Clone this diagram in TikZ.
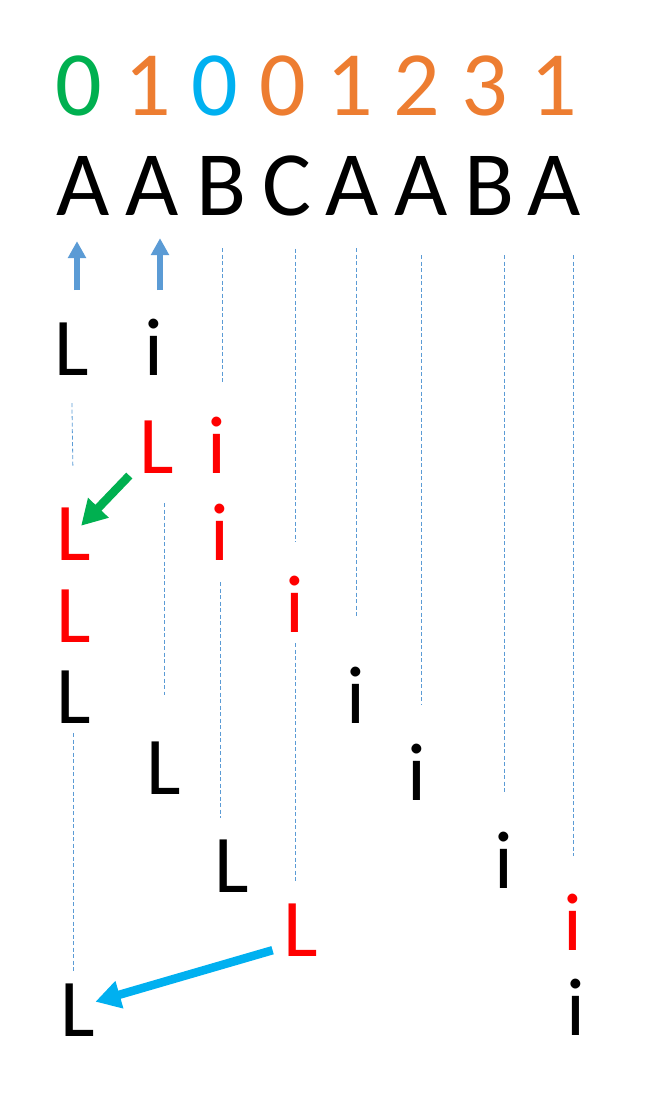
\documentclass[tikz,border=0pt]{standalone}
\usepackage{fontspec}
\setmainfont{Carlito}
\usepackage{xcolor}
\usepackage{tikz}
\usetikzlibrary{arrows.meta}
\definecolor{dgreen}{HTML}{00B050}
\definecolor{orng}{HTML}{ED7D31}
\definecolor{sky}{HTML}{00B0F0}
\definecolor{pred}{HTML}{FF0000}
\definecolor{steel}{HTML}{5B9BD5}
\tikzset{
    glyph/.style = {inner sep=0pt, anchor=base},
    top_char/.style = {glyph, font=\fontsize{92}{100}\selectfont},
    black_char/.style = {glyph, text=black, font=\fontsize{82}{90}\selectfont},
    red_char/.style = {glyph, text=pred, font=\fontsize{82}{90}\selectfont},
    guide/.style = {draw=steel, line width=0.8pt, dash pattern=on 4pt off 2.5pt},
    up_arrow/.style = {color=steel, line width=6pt, -{Triangle[width=17.5pt, length=17pt]}},
    back_arrow/.style = {line width=8.5pt, -{Triangle[width=27pt, length=25pt]}}
}
\begin{document}
\begin{tikzpicture}[x=1pt, y=-1pt]
    \useasboundingbox (0,0) rectangle (650,1109);

    \node [top_char, text=dgreen] (d1) at (79,115) {0};
    \node [top_char, text=orng] (d2) at (148,115) {1};
    \node [top_char, text=sky] (d3) at (215,115) {0};
    \node [top_char, text=orng] (d4) at (283,115) {0};
    \node [top_char, text=orng] (d5) at (350,115) {1};
    \node [top_char, text=orng] (d6) at (417,115) {2};
    \node [top_char, text=orng] (d7) at (485,115) {3};
    \node [top_char, text=orng] (d8) at (554,115) {1};

    \node [top_char] (c1) at (83,215) {A};
    \node [top_char] (c2) at (152,215) {A};
    \node [top_char] (c3) at (222,215) {B};
    \node [top_char] (c4) at (287,215) {C};
    \node [top_char] (c5) at (352,215) {A};
    \node [top_char] (c6) at (421,215) {A};
    \node [top_char] (c7) at (490,215) {B};
    \node [top_char] (c8) at (554,215) {A};

    \node [black_char] (L1) at (71.5,375) {L};
    \node [black_char] (i1) at (154,375) {i};
    \node [red_char] (L2) at (157,473) {L};
    \node [red_char] (i2) at (217,473) {i};
    \node [red_char] (L3) at (73.5,560) {L};
    \node [red_char] (i3) at (220,560) {i};
    \node [red_char] (L4) at (73.5,642) {L};
    \node [red_char] (i4) at (295,632) {i};
    \node [black_char] (L5) at (73.5,723) {L};
    \node [black_char] (i5) at (356,723) {i};
    \node [black_char] (L6) at (164,794) {L};
    \node [black_char] (i6) at (417,800) {i};
    \node [black_char] (L7) at (231.5,892) {L};
    \node [black_char] (i7) at (504,888) {i};
    \node [red_char] (L8) at (301,956) {L};
    \node [red_char] (i8) at (573,950) {i};
    \node [black_char] (L9) at (78,1036) {L};
    \node [black_char] (i9) at (576,1035) {i};

    \coordinate (u1) at (77,290);
    \coordinate (u2) at (160,290);
    \draw [up_arrow, shorten >=26pt] (u1) -- (u1 |- c1.south);
    \draw [up_arrow, shorten >=23pt] (u2) -- (u2 |- c2.south);

    \draw [guide, shorten <=28pt, shorten >=40pt] (L1.south) -- (L3.north);
    \draw [guide, shorten <=30pt, shorten >=46pt] (L6.north |- L2.south) -- (L6.north);
    \draw [guide, shorten <=33pt, shorten >=33pt] (c3.south) -- (c3.south |- i2.north);
    \draw [guide, shorten <=22pt, shorten >=21pt] (i3.south) -- (i3.south |- L7.north);
    \draw [guide, shorten <=33pt, shorten >=33pt] (i4.north |- c4.south) -- (i4.north);
    \draw [guide, shorten <=11pt, shorten >=20pt] (i4.south) -- (i4.south |- L8.north);
    \draw [guide, shorten <=10pt, shorten >=10pt] (L5.south) -- (L5.south |- L9.north);
    \draw [guide, shorten <=33pt, shorten >=48pt] (i5.north |- c5.south) -- (i5.north);
    \draw [guide, shorten <=40pt, shorten >=39pt] (c6.south) -- (c6.south |- i6.north);
    \draw [guide, shorten <=40pt, shorten >=38pt] (i7.north |- c7.south) -- (i7.north);
    \draw [guide, shorten <=40pt, shorten >=37pt] (i8.north |- c8.south) -- (i8.north);

    \draw [back_arrow, dgreen, shorten <=40pt, shorten >=11pt] (L2.center) -- (L3.center);
    \draw [back_arrow, sky] ([xshift=-11pt, yshift=6pt]L8.south west) -- ([yshift=8pt]L9.east);
\end{tikzpicture}
\end{document}
